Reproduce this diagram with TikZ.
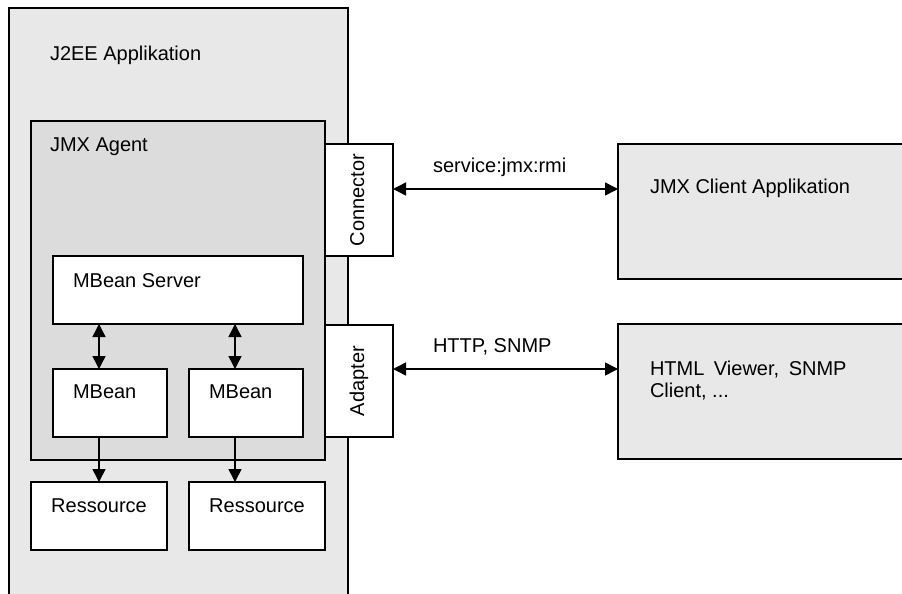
\documentclass[tikz,border=0pt]{standalone}
\usepackage{fontspec}
\setmainfont{Liberation Sans}
\usetikzlibrary{arrows.meta}
\definecolor{appfill}{HTML}{E8E8E8}
\definecolor{agentfill}{HTML}{DCDCDC}
\tikzset{
  box/.style={draw=black, line width=1.5pt, inner sep=0pt, outer sep=0pt},
  label/.style={inner sep=0pt, outer sep=0pt, font=\fontsize{20}{24}\selectfont},
  link/.style={line width=1.5pt, {Triangle[length=13pt,width=13pt]}-{Triangle[length=13pt,width=13pt]}},
  uselink/.style={line width=1.5pt, -{Triangle[length=13pt,width=13pt]}},
}
\begin{document}
\begin{tikzpicture}[x=1pt, y=-1pt]
\useasboundingbox (0,0) rectangle (902,594);
\clip (0,0) rectangle (902,594);

% J2EE application frame and the JMX agent inside it
\node[box, fill=appfill, minimum width=339pt, minimum height=612pt] (app) at (178.5,314) {};
\node[box, fill=agentfill, minimum width=294pt, minimum height=339pt] (agent) at (178,290.5) {};

% connector and adapter on the agent's edge
\node[box, fill=white, minimum width=68pt, minimum height=112pt] (conn) at (359,200) {};
\node[box, fill=white, minimum width=68pt, minimum height=112pt] (adap) at (359,381) {};

% MBean server, MBeans and resources
\node[box, fill=white, minimum width=250pt, minimum height=68pt] (server) at (178,290) {};
\node[box, fill=white, minimum width=114pt, minimum height=68pt] (mb1) at (110,403) {};
\node[box, fill=white, minimum width=114pt, minimum height=68pt] (mb2) at (246,403) {};
\node[box, fill=white, minimum width=136pt, minimum height=68pt] (res1) at (99,516) {};
\node[box, fill=white, minimum width=136pt, minimum height=68pt] (res2) at (257,516) {};

% remote clients
\node[box, fill=appfill, minimum width=292pt, minimum height=135pt] (client1) at (764,211.5) {};
\node[box, fill=appfill, minimum width=292pt, minimum height=135pt] (client2) at (764,391.5) {};

% texts
\node[label, anchor=base west] (tapp) at (50,60) {J2EE Applikation};
\node[label, anchor=base west] (tagent) at (50,151) {JMX Agent};
\node[label, anchor=base west] (tserver) at (73,287) {MBean Server};
\node[label, anchor=base west] (tmb1) at (73,398) {MBean};
\node[label, anchor=base west] (tmb2) at (209,398) {MBean};
\node[label, anchor=base] (tres1) at (99,512) {Ressource};
\node[label, anchor=base] (tres2) at (257,512) {Ressource};
\node[label, anchor=base, rotate=90] (tconn) at (364,200) {Connector};
\node[label, anchor=base, rotate=90] (tadap) at (364,381) {Adapter};
\node[label, anchor=base west] (tclient1) at (650,193) {JMX Client Applikation};
\node[label, anchor=base west] (tclient2a) at (650,375) {HTML\hspace{4pt} Viewer,\hspace{4pt} SNMP};
\node[label, anchor=base west] (tclient2b) at (650,397) {Client, ...};
\node[label, anchor=base west] (trmi) at (433,172) {service:jmx:rmi};
\node[label, anchor=base west] (thttp) at (433,352) {HTTP, SNMP};

% connector lines
\coordinate (ca) at (99,0);
\coordinate (cb) at (235,0);
\coordinate (rmi) at (0,189);
\coordinate (http) at (0,369);
\draw[link] (ca |- server.south) -- (ca |- mb1.north);
\draw[link] (cb |- server.south) -- (cb |- mb2.north);
\draw[uselink] (ca |- mb1.south) -- (res1.north);
\draw[uselink] (cb |- mb2.south) -- (cb |- res2.north);
\draw[link] (conn.east |- rmi) -- (client1.west |- rmi);
\draw[link] (adap.east |- http) -- (client2.west |- http);
\end{tikzpicture}
\end{document}
